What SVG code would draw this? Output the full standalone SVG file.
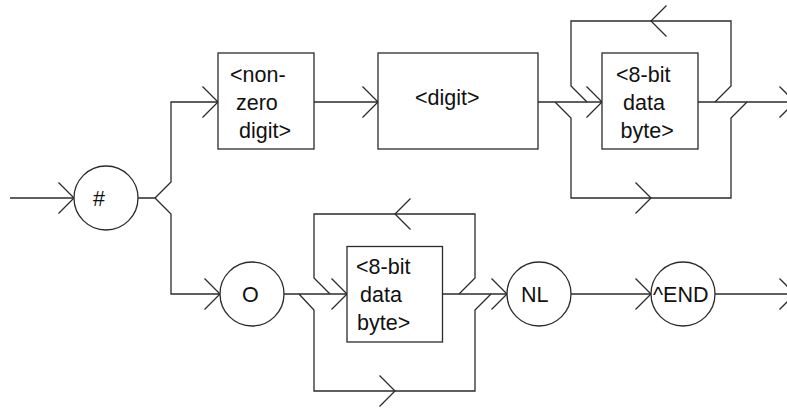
<svg xmlns="http://www.w3.org/2000/svg" xmlns:xlink="http://www.w3.org/1999/xlink" width="787" height="408" viewBox="0 0 787 408">
<style>
.ln{fill:none;stroke:#2b2b2b;stroke-width:1.3}
.nd{fill:#fff;stroke:#2b2b2b;stroke-width:1.3}
.tx{font-family:"Liberation Sans",Arial,sans-serif;font-size:21.5px;fill:#111}
</style>
<defs>
<path id="ar" class="ln" d="M-15.5,-15.5 L0,0 L-15.5,15.5"/>
</defs>
<rect width="787" height="408" fill="#fff"/>
<g id="connectors">
<path class="ln" d="M10,198 H74"/>
<use xlink:href="#ar" href="#ar" x="74" y="198"/>
<path class="ln" d="M138,198 H155 L171,182 V102 H218"/>
<use xlink:href="#ar" href="#ar" x="218" y="102"/>
<path class="ln" d="M155,198 L171,214 V294 H220"/>
<use xlink:href="#ar" href="#ar" x="220" y="294"/>
<path class="ln" d="M314,102 H378"/>
<use xlink:href="#ar" href="#ar" x="378" y="102"/>
<path class="ln" d="M538,102 H602"/>
<use xlink:href="#ar" href="#ar" x="602" y="102"/>
<path class="ln" d="M715,102 L731,86 V21 H571 V86 L587,102"/>
<use xlink:href="#ar" href="#ar" transform="translate(651,21) rotate(180)"/>
<path class="ln" d="M555,102 L571,118 V198 H731 V118 L747,102"/>
<use xlink:href="#ar" href="#ar" x="651" y="198"/>
<path class="ln" d="M698,102 H795"/>
<use xlink:href="#ar" href="#ar" x="795" y="102"/>
<path class="ln" d="M284,294 H347"/>
<use xlink:href="#ar" href="#ar" x="347" y="294"/>
<path class="ln" d="M459,294 L475,278 V214 H314 V278 L330,294"/>
<use xlink:href="#ar" href="#ar" transform="translate(395,214) rotate(180)"/>
<path class="ln" d="M299,294 L314,310 V391 H475 V310 L491,294"/>
<use xlink:href="#ar" href="#ar" x="395" y="391"/>
<path class="ln" d="M442,294 H507"/>
<use xlink:href="#ar" href="#ar" x="507" y="294"/>
<path class="ln" d="M571,294 H651"/>
<use xlink:href="#ar" href="#ar" x="651" y="294"/>
<path class="ln" d="M715,294 H795"/>
<use xlink:href="#ar" href="#ar" x="795" y="294"/>
</g>
<g id="hash">
<circle class="nd" cx="106" cy="198" r="32"/>
<text class="tx" x="93" y="205.5">#</text>
</g>
<g id="nonzero">
<rect class="nd" x="218" y="53" width="96" height="96"/>
<text class="tx" x="230" y="82">&lt;non-</text>
<text class="tx" x="236" y="110">zero</text>
<text class="tx" x="239" y="137.5">digit&gt;</text>
</g>
<g id="digit">
<rect class="nd" x="378" y="53" width="160" height="96"/>
<text class="tx" x="415" y="105">&lt;digit&gt;</text>
</g>
<g id="byte1">
<rect class="nd" x="602" y="53" width="96" height="96"/>
<text class="tx" x="616" y="82">&lt;8-bit</text>
<text class="tx" x="623" y="110">data</text>
<text class="tx" x="620.5" y="137.5">byte&gt;</text>
</g>
<g id="o">
<circle class="nd" cx="252" cy="294" r="32"/>
<text class="tx" x="242" y="301.5">O</text>
</g>
<g id="byte2">
<rect class="nd" x="347" y="246.5" width="95.5" height="95.5"/>
<text class="tx" x="356" y="274">&lt;8-bit</text>
<text class="tx" x="360" y="302">data</text>
<text class="tx" x="357" y="330">byte&gt;</text>
</g>
<g id="nl">
<circle class="nd" cx="539" cy="294" r="32"/>
<text class="tx" x="521" y="301.5">NL</text>
</g>
<g id="end">
<circle class="nd" cx="683" cy="294" r="32"/>
<text class="tx" x="653" y="301.5">^END</text>
</g>
</svg>
